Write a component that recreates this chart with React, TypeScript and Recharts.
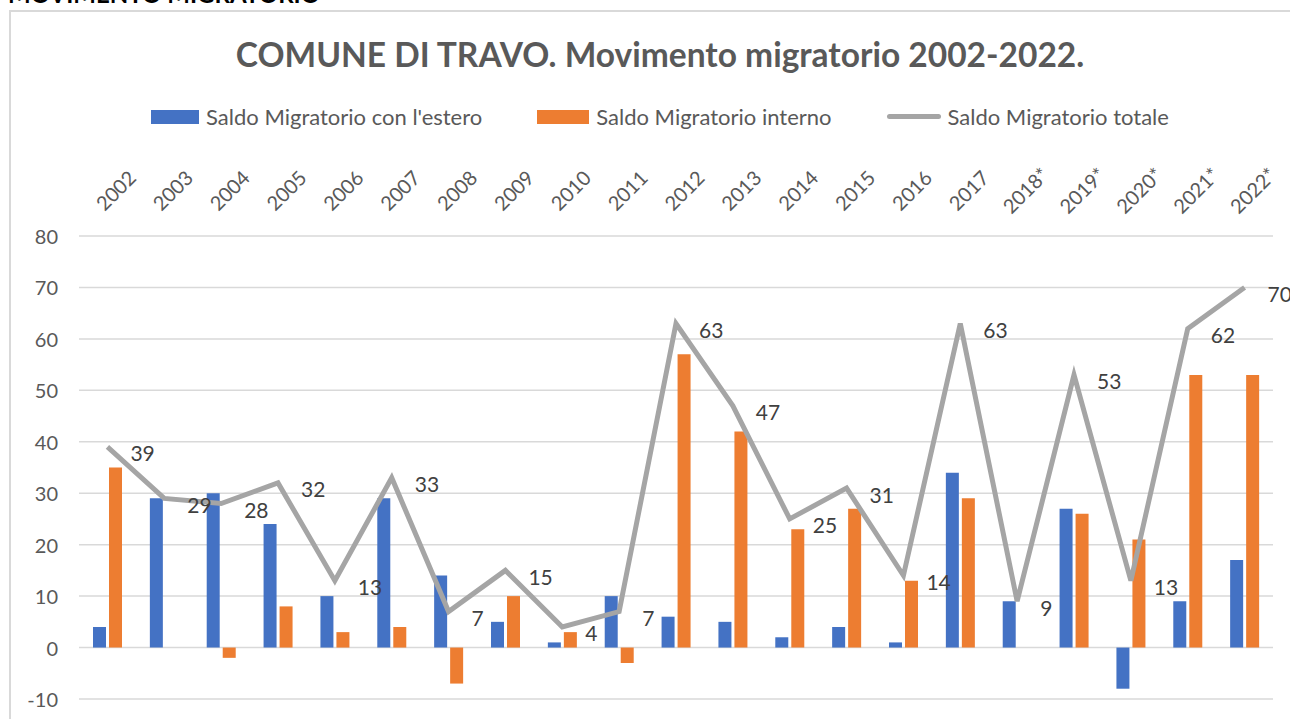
import React from 'react'
import {
  ComposedChart,
  Bar,
  Line,
  XAxis,
  YAxis,
  CartesianGrid,
  LabelList,
} from 'recharts'

const YEARS = [
  '2002', '2003', '2004', '2005', '2006', '2007', '2008', '2009', '2010', '2011',
  '2012', '2013', '2014', '2015', '2016', '2017', '2018*', '2019*', '2020*', '2021*', '2022*',
]
const ESTERO = [4, 29, 30, 24, 10, 29, 14, 5, 1, 10, 6, 5, 2, 4, 1, 34, 9, 27, -8, 9, 17]
const INTERNO = [35, 0, -2, 8, 3, 4, -7, 10, 3, -3, 57, 42, 23, 27, 13, 29, 0, 26, 21, 53, 53]
const TOTALE = [39, 29, 28, 32, 13, 33, 7, 15, 4, 7, 63, 47, 25, 31, 14, 63, 9, 53, 13, 62, 70]
const Y_TICKS = [-10, 0, 10, 20, 30, 40, 50, 60, 70, 80]

const BLUE = '#4472c4'
const ORANGE = '#ed7d31'
const GREY = '#a5a5a5'
const FONT = 'Lato, "Open Sans", sans-serif'

if (typeof document !== 'undefined') {
  document.body.style.margin = '0'
  document.documentElement.style.overflow = 'hidden'
}

const data = YEARS.map((year, i) => ({
  year,
  estero: ESTERO[i],
  interno: INTERNO[i],
  totale: TOTALE[i],
}))

function YearTick({ x, y, payload }: any) {
  const cx = x + 8
  const cy = y - 46
  return (
    <text
      x={cx}
      y={cy}
      transform={`rotate(-45, ${cx}, ${cy})`}
      textAnchor="middle"
      dominantBaseline="central"
      fontSize={20}
      fontFamily={FONT}
      fill="#595959"
    >
      {payload.value}
    </text>
  )
}

function ValueTick({ x, y, payload }: any) {
  return (
    <text
      x={x}
      y={y}
      textAnchor="end"
      dominantBaseline="central"
      fontSize={20}
      fontFamily={FONT}
      fill="#595959"
    >
      {payload.value}
    </text>
  )
}

function TotalLabel({ x, y, value }: any) {
  return (
    <text
      x={x + 23}
      y={y + 6}
      dominantBaseline="central"
      fontSize={21}
      fontFamily={FONT}
      fill="#404040"
    >
      {value}
    </text>
  )
}

function ChartLegend() {
  const item = { display: 'flex', alignItems: 'center', gap: 7 } as const
  const label = { fontSize: 22, color: '#595959', fontFamily: FONT }
  return (
    <div style={{ display: 'flex', justifyContent: 'center', gap: 55 }}>
      <div style={item}>
        <span style={{ width: 48, height: 14, background: BLUE }} />
        <span style={label}>Saldo Migratorio con l'estero</span>
      </div>
      <div style={item}>
        <span style={{ width: 52, height: 14, background: ORANGE }} />
        <span style={label}>Saldo Migratorio interno</span>
      </div>
      <div style={item}>
        <span style={{ width: 54, height: 5, borderRadius: 3, background: GREY }} />
        <span style={label}>Saldo Migratorio totale</span>
      </div>
    </div>
  )
}

export default function App() {
  return (
    <div
      style={{
        position: 'relative',
        width: 1290,
        height: 719,
        overflow: 'hidden',
        background: '#fff',
        fontFamily: FONT,
      }}
    >
      {/* page heading, cut off by the screenshot */}
      <div
        style={{
          position: 'absolute',
          left: 8,
          top: -18,
          lineHeight: '24px',
          fontSize: 24,
          fontWeight: 700,
          color: '#000',
          fontFamily: FONT,
          whiteSpace: 'nowrap',
        }}
      >
        MOVIMENTO MIGRATORIO
      </div>
      {/* chart frame: only top and left edges are in view */}
      <div style={{ position: 'absolute', left: 9, top: 10, width: 1281, height: 2, background: '#d9d9d9' }} />
      <div style={{ position: 'absolute', left: 9, top: 10, width: 2, height: 709, background: '#d9d9d9' }} />
      <div
        style={{
          position: 'absolute',
          left: 0,
          width: 1320,
          top: 34,
          textAlign: 'center',
          fontSize: 33.5,
          fontWeight: 700,
          color: '#595959',
          whiteSpace: 'nowrap',
        }}
      >
        COMUNE DI TRAVO. Movimento migratorio 2002-2022.
      </div>
      <div style={{ position: 'absolute', left: 0, top: 103, width: 1320 }}>
        <ChartLegend />
      </div>
      <div style={{ position: 'absolute', left: 0, top: 0 }}>
        <ComposedChart
          width={1290}
          height={719}
          data={data}
          margin={{ top: 150, right: 17, bottom: 20, left: 0 }}
          barGap={3}
          barSize={13}
        >
          <CartesianGrid vertical={false} stroke="#d9d9d9" strokeWidth={1.5} />
          <XAxis
            dataKey="year"
            orientation="top"
            height={86}
            axisLine={false}
            tickLine={false}
            tickSize={0}
            tickMargin={0}
            interval={0}
            tick={<YearTick />}
          />
          <YAxis
            domain={[-10, 80]}
            ticks={Y_TICKS}
            width={79}
            axisLine={false}
            tickLine={false}
            tickSize={0}
            tickMargin={21}
            interval={0}
            tick={<ValueTick />}
          />
          <Bar dataKey="estero" name="Saldo Migratorio con l'estero" fill={BLUE} isAnimationActive={false} />
          <Bar dataKey="interno" name="Saldo Migratorio interno" fill={ORANGE} isAnimationActive={false} />
          <Line
            dataKey="totale"
            name="Saldo Migratorio totale"
            type="linear"
            stroke={GREY}
            strokeWidth={5}
            dot={false}
            isAnimationActive={false}
          >
            <LabelList dataKey="totale" content={<TotalLabel />} />
          </Line>
        </ComposedChart>
      </div>
    </div>
  )
}
